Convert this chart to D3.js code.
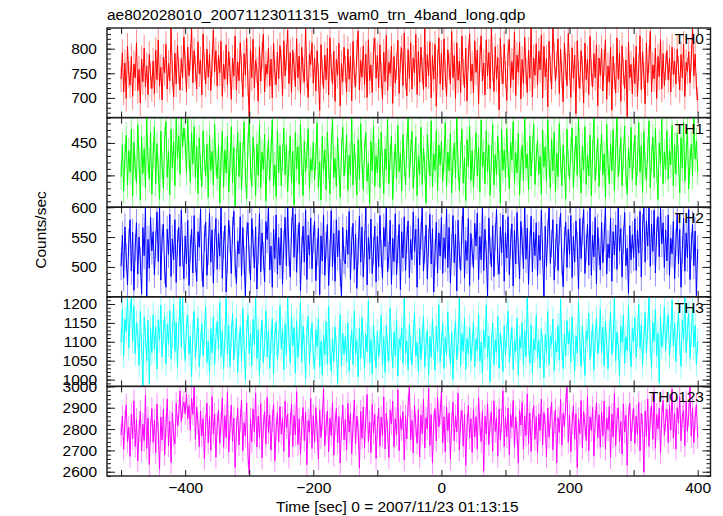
<!DOCTYPE html>
<html><head><meta charset="utf-8">
<script src="https://cdn.jsdelivr.net/npm/d3@7"></script>
<style>
html,body{margin:0;padding:0;background:#fff;}
svg{display:block;font-family:"Liberation Sans",Arial,Helvetica,sans-serif;}
</style></head>
<body><svg id="c" width="723" height="516"></svg>
<script>
const title = "ae802028010_20071123011315_wam0_trn_4band_long.qdp";
const xLabel = "Time [sec] 0 = 2007/11/23 01:13:15";
const yLabel = "Counts/sec";
const panelNames = ["TH0","TH1","TH2","TH3","TH0123"];
const colors = ["#ff0000","#00ff00","#0000ff","#00ffff","#ff00ff"];
const timeRange = [-500, 400];
const xDomain = [-522, 420];
const xTicks = [-400,-200,0,200,400];
const xTickLabels = ["\u2212400","\u2212200","0","200","400"];
const xMinorTicks = [-500,-300,-100,100,300];
const yDomains = [[660,842],[351,489],[450,600],[982,1219],[2580,3000]];
const yTicks = [[700,750,800],[400,450],[500,550,600],[1000,1050,1100,1150,1200],[2600,2700,2800,2900,3000]];
const yMinorStep = [10,10,10,10,20];
const errHalf = [27,20,23,33,53];

const th0 = [738,792,712,771,699,805,748,726,784,703,769,741,812,715,758,690,779,733,801,722,765,707,788,746,719,
775,708,797,737,818,724,762,696,783,751,809,718,770,735,842,749,702,791,728,806,755,716,780,741,824,
768,712,803,745,782,842,731,796,760,718,814,749,777,706,830,764,728,799,742,789,715,771,838,753,796,
724,787,751,815,703,769,738,808,727,794,756,697,781,744,826,716,773,735,812,759,702,790,746,821,730,
662,798,741,819,720,776,757,693,804,734,787,829,712,768,748,801,724,779,700,811,752,727,793,739,806,
771,704,816,745,783,838,729,792,711,797,764,723,820,741,785,709,803,756,732,842,747,701,789,768,812,
730,781,714,796,742,675,808,753,719,787,737,801,706,822,761,728,795,693,779,746,811,684,770,733,803,
759,712,799,738,784,694,815,748,723,791,836,716,776,742,806,727,789,701,818,735,767,711,796,821,740,
786,721,808,746,697,793,733,827,715,772,750,805,689,784,730,764,817,709,778,801,725,832,744,704,798,
739,812,718,781,751,829,707,794,732,803,756,717,840,722,788,745,814,700,786,738,809,683,770,822,728,
791,716,820,749,703,798,764,728,835,741,786,699,812,736,775,711,826,753,720,801,694,783,830,734,769,
710,816,752,797,688,779,826,734,771,706,818,745,792,719,842,760,713,804,738,782,676,821,755,729,809,
748,695,792,819,721,774,737,834,705,787,752,813,698,778,729,823,754,711,797,740,842,702,781,746,810,
726,795,757,828,700,805,743,780,682,815,760,718,842,786,734,768,820,709,799,747,692,811,764,725,831,
763,701,802,740,787,668,816,748,719,796,758,690,811,737,779,707,825,751,722,790,741,808,684,781,746,
800,714,771,818,697,765,732,803,675,784,744,710,822,738,791,693,806,752,719,777,662,813,741,768,708,
782,729,805,703,761,826,717,794,746,688,812,731,778,835,712,767,739,801,699,784,743,819,718,790,725,
764,796,737,781,712,803,748,775,728,799,758,716,788,741,809,703,772,754,794,730,781,842,745,789,722,695];

const th1 = [398,447,376,429,462,385,438,405,471,368,451,412,389,478,425,362,459,403,441,381,489,422,394,466,371,
432,475,387,449,408,363,468,415,380,455,483,397,437,370,471,411,452,384,489,426,461,402,489,444,473,
452,404,487,431,390,466,418,475,396,445,372,458,413,383,469,427,399,448,366,462,408,437,385,479,420,
395,446,358,425,468,382,439,404,461,374,418,475,389,443,352,421,466,398,451,377,432,482,401,364,447,
489,412,383,459,424,369,448,400,478,381,436,409,463,360,421,455,392,437,486,383,416,367,468,404,446,
384,428,473,401,447,375,419,461,388,437,355,466,410,444,386,479,420,369,453,405,431,472,380,425,408,
451,393,429,481,380,421,362,460,407,439,378,467,414,371,446,487,397,426,383,458,410,366,437,474,399,
423,463,377,431,401,489,385,448,413,370,455,394,480,422,378,438,466,391,419,356,452,407,476,383,430,
404,456,381,467,420,372,441,409,486,387,428,461,363,417,448,395,477,406,434,376,463,419,385,445,489,
397,435,468,380,418,459,369,429,402,474,386,442,413,358,463,423,399,484,382,433,408,469,376,447,416,
452,391,424,481,382,436,407,465,373,421,450,396,489,412,377,433,471,388,427,361,455,414,476,392,438,
381,421,466,399,443,374,485,413,436,387,469,405,447,369,426,478,385,432,401,460,419,357,471,408,439,
396,472,418,379,451,424,483,388,435,404,465,370,420,446,392,489,411,433,378,461,399,440,479,386,427,
455,402,429,371,470,413,444,391,486,420,380,456,407,467,375,434,398,480,423,384,447,412,364,471,419,
393,438,473,381,424,461,400,489,416,373,445,408,475,386,431,399,462,369,435,488,392,421,457,383,428,
464,401,433,366,479,418,387,449,407,470,377,436,489,398,423,458,384,429,476,402,371,442,411,474,394,
431,462,385,420,481,405,446,374,468,415,392,437,484,381,426,459,397,472,410,363,450,418,487,387,436,
409,469,394,438,416,477,384,447,402,465,424,373,458,411,482,391,433,473,379,421,448,399,489,425,453,405];

const th2 = [501,553,482,567,516,470,541,579,493,558,461,532,574,488,550,510,455,566,519,600,450,546,498,583,527,
559,487,538,592,509,600,478,549,571,495,466,563,521,588,484,547,512,579,474,540,566,501,595,524,480,
552,505,578,469,531,563,490,586,514,476,559,533,597,499,467,548,575,486,526,590,508,562,473,541,581,
496,556,518,600,481,537,569,458,512,578,546,489,561,593,506,472,543,522,584,485,566,511,452,553,574,
513,478,581,540,498,567,463,527,589,492,557,519,475,576,546,600,495,535,466,563,514,587,488,549,503,
565,471,538,583,502,600,524,483,560,600,516,588,491,547,574,460,529,568,508,595,479,553,520,582,497,
547,576,477,525,565,454,552,510,587,486,536,571,469,523,594,500,556,476,579,517,561,490,450,566,511,
505,562,521,593,479,544,573,496,555,464,526,585,508,567,483,538,600,470,549,513,580,489,527,568,475,
551,500,586,522,481,566,534,600,492,519,578,471,548,509,589,487,530,571,462,559,515,584,494,545,577,
482,546,512,592,526,563,466,581,503,552,600,493,529,570,480,541,588,505,564,458,523,575,490,557,518,
583,489,549,514,597,499,566,473,532,586,507,555,460,578,520,494,562,600,481,544,511,581,469,556,525,
498,573,535,590,479,551,512,600,494,563,521,451,582,527,500,569,484,550,596,509,488,567,524,587,476,
557,515,584,487,541,572,468,561,505,591,528,480,576,543,497,600,513,565,471,538,585,492,558,519,574,
485,553,511,595,522,450,568,501,556,600,506,539,579,478,524,572,494,560,590,509,467,545,575,499,563,
521,586,482,551,508,577,536,463,581,514,560,596,489,532,571,503,600,486,553,517,583,472,566,526,495,
574,507,549,600,488,538,515,582,476,559,520,570,496,600,527,564,483,545,591,502,531,456,569,512,554,
516,581,494,561,523,593,483,566,600,508,577,535,600,501,572,526,595,490,558,584,517,600,539,574,499,
562,510,587,486,548,522,576,480,541,590,505,563,466,528,582,493,557,515,596,479,535,571,502,560,452,530];

const th3 = [1098,1186,1062,1159,1127,1219,1083,1172,1219,1101,1195,1069,1151,1117,1038,1180,1089,982,1165,1112,1050,1157,990,1136,1071,
1171,1079,1140,1028,1158,1104,1197,1060,1125,1168,1041,1146,1093,1183,1055,1119,1200,1074,1152,1033,1130,1214,1086,1219,1110,
1050,1139,1170,1068,1115,1008,1127,1181,1057,1106,1162,1034,1092,1148,1063,1121,1193,1045,1101,1019,1135,1071,1166,1040,1112,
1154,1080,1204,1061,1129,1029,1110,1219,1066,1143,1035,1118,1175,1052,1105,1163,1018,1094,1140,1048,1188,1087,1001,1124,1170,
1069,1121,1037,1159,1092,1216,1055,1133,1011,1108,1157,1044,1095,1182,1060,1130,1030,1100,1161,1014,1117,1152,1053,1098,1196,
1082,1133,1026,1148,1064,1219,1109,1043,1169,1090,1138,1017,1156,1058,1112,1205,1046,1141,1089,1003,1125,1167,1039,1104,1150,
1061,1027,1133,1086,1162,1035,1101,1013,1118,1066,1153,1042,1194,1075,1021,1110,1048,1139,1081,990,1097,1172,1036,1123,1067,
1115,1046,1150,1022,1085,1131,1040,1181,1068,1103,1007,1136,1055,1165,1090,1029,1120,1074,1208,1044,1106,1015,1147,1082,1032,
1128,1058,1099,1170,1037,1113,1019,1143,1077,1049,1189,1092,1031,1125,1063,1158,1010,1107,1084,1137,1043,1215,1071,1102,1026,
1146,1081,1039,1116,1176,1062,1098,1020,1135,1054,1109,1167,1033,1093,1132,1012,1114,1059,1160,1087,1025,1141,1073,1198,1047,
1096,1149,1029,1112,1066,1178,1088,1041,1127,1000,1104,1155,1052,1094,1219,1036,1121,1075,1163,1027,1108,1069,1140,1050,1095,
1153,1034,1107,1078,1174,1048,1099,1016,1131,1085,1197,1057,1115,995,1092,1150,1039,1105,1072,1168,1030,1124,1083,1021,1142,
1064,1118,1181,1045,1093,1138,1026,1102,1076,1162,1012,1111,1084,1151,1037,1129,1061,1219,1095,1044,1145,1018,1107,1079,1170,
1056,1103,1031,1134,1087,1005,1119,1069,1180,1040,1114,1092,1160,1024,1101,1073,1143,1051,1212,1086,1029,1122,1063,1156,1094,
1131,1047,1166,1090,1022,1116,1070,1204,1097,1035,1144,1081,1011,1128,1105,1175,1054,1096,1147,1025,1110,1163,1068,1102,1187,
1072,1139,1036,1155,1093,1028,1120,1178,1066,1106,1219,1049,1126,1085,1010,1141,1098,1170,1043,1113,1076,1196,1091,1034,1137,
1100,1164,1059,1118,1199,1082,1145,1038,1109,1177,1070,1132,1219,1094,1030,1152,1101,1185,1062,1123,992,1168,1087,1114,1193,
1078,1136,1172,1060,1115,1210,1090,1149,1048,1121,1180,1095,1035,1158,1104,1219,1071,1133,1174,1057,1118,1192,1086,1143,1040,1101];

const th0123 = [2772,2861,2705,2834,2913,2741,2808,2672,2869,2755,2932,2718,2845,2650,2790,2884,2697,2823,2746,2958,2710,2851,2634,2797,2896,
2738,2842,2689,2917,2781,2612,2856,2749,2893,2680,2812,2940,2722,2836,2643,2877,2770,2731,2921,2815,2862,2978,2835,2901,2926,
2872,2965,2848,2910,2794,2944,2869,2996,2752,2903,2826,2718,2885,2768,2849,2661,2817,2922,2736,2858,2700,2953,2779,2871,2668,
2821,2889,2734,2827,2946,2715,2863,2760,2972,2692,2809,2912,2743,2852,2620,2798,2897,2725,2841,2935,2699,2830,2767,2923,2684,
2590,2848,2741,2894,2787,2968,2716,2860,2758,2919,2665,2815,2882,2729,2949,2783,2866,2701,2838,2915,2651,2800,2877,2740,2905,
2776,2852,2696,2930,2806,2870,2668,2825,2918,2719,2863,2772,2975,2727,2848,2683,2809,2901,2746,2879,2633,2840,2785,2943,2709,
2863,2739,2901,2792,2660,2889,2760,2846,2988,2722,2819,2885,2694,2851,2770,2927,2678,2824,2897,2735,2858,2641,2804,2913,2749,
2845,2703,2921,2786,2872,2684,2814,2937,2730,2861,2795,2618,2883,2757,2904,2712,2850,2962,2741,2834,2690,2916,2781,2869,2662,
2808,2898,2721,2856,2768,2951,2707,2874,2790,2667,2889,2824,2930,2716,2849,2773,2984,2698,2859,2796,2882,2655,2863,2754,2911,
3000,2751,2840,2688,2912,2817,2733,2890,2669,2866,2779,2939,2711,2853,2801,2992,2723,2868,2640,2829,2896,2744,2948,2810,2875,
2975,2736,2857,2693,2904,2792,2876,2659,2826,2925,2745,2862,2787,2968,2702,2836,2887,2720,2871,2629,2815,2910,2758,2849,2690,
2893,2763,2858,2706,2947,2822,2741,2885,2603,2860,2777,2920,2727,2833,2878,2696,2931,2789,2852,2672,2894,2748,2839,2979,2718,
2855,2764,2898,2680,2869,2808,2934,2715,2857,2782,2640,2887,2819,2925,2706,2862,2770,2964,2731,2876,2695,2843,2909,2752,2858,
2687,2870,2793,2940,2725,2878,2816,2669,2899,2761,2856,2927,2703,2831,2891,2642,2853,2784,2939,2724,2873,2811,2916,2995,2738,
2866,2694,2827,2910,2752,2872,2620,2848,2779,2933,2711,2882,2820,2745,2957,2698,2857,2793,2901,2673,2838,2924,2759,2867,2716,
2881,2769,2931,2705,2852,2797,2906,2666,2871,2763,2968,2722,2846,2900,2741,2835,2683,2918,2786,2864,2630,2857,2921,2744,2840,
2899,2733,2861,2773,2925,2698,2874,2816,2598,2885,2766,2941,2719,2854,2908,2752,2974,2710,2869,2801,2898,2687,2862,2934,2771,
2843,2893,2737,2913,2795,2987,2758,2872,2706,2900,2829,2952,2745,2859,2887,2722,2929,2790,2866,3000,2766,2901,2735,2851,2914,2760];

const series = [th0, th1, th2, th3, th0123];

(function draw() {
  const pL = 107, pR = 710.5, pT = 28, pB = 476;
  const panelH = (pB - pT) / series.length;
  const ink = "#1a1a1a";
  const fs = 15.5;
  const ff = "Liberation Sans, Arial, sans-serif";

  const svg = d3.select("#c");
  const x = d3.scaleLinear().domain(xDomain).range([pL, pR]);

  svg.append("text").attr("x", 107).attr("y", 20).attr("font-size", fs).attr("fill", "#000").text(title);

  series.forEach((vals, p) => {
    const y0 = pT + p * panelH, y1 = y0 + panelH;
    const y = d3.scaleLinear().domain(yDomains[p]).range([y1, y0]);
    const step = (timeRange[1] - timeRange[0]) / (vals.length - 1);
    const pts = vals.map((v, i) => [timeRange[0] + i * step, v]);
    const g = svg.append("g");
    const clipId = "clip" + p;
    svg.append("clipPath").attr("id", clipId).append("rect")
      .attr("x", pL).attr("y", y0).attr("width", pR - pL).attr("height", panelH);
    const dg = g.append("g").attr("clip-path", `url(#${clipId})`);
    dg.append("path")
      .attr("d", pts.map(d => `M${x(d[0])},${y(d[1] - errHalf[p])}V${y(d[1] + errHalf[p])}`).join(""))
      .attr("stroke", colors[p]).attr("stroke-opacity", 0.45).attr("stroke-width", 1).attr("fill", "none");
    dg.append("path").datum(pts)
      .attr("d", d3.line().x(d => x(d[0])).y(d => y(d[1])))
      .attr("stroke", colors[p]).attr("stroke-width", 1).attr("fill", "none");

    const minor = d3.range(Math.ceil(yDomains[p][0] / yMinorStep[p]) * yMinorStep[p], yDomains[p][1] + 0.01, yMinorStep[p]);
    const yMajorLeft = d3.axisLeft(y).tickValues(yTicks[p]).tickSizeInner(-8).tickSizeOuter(0).tickPadding(10).tickFormat(d3.format("d"));
    const yMinorLeft = d3.axisLeft(y).tickValues(minor).tickSizeInner(-4).tickSizeOuter(0).tickFormat("");
    const yMajorRight = d3.axisRight(y).tickValues(yTicks[p]).tickSizeInner(-8).tickSizeOuter(0).tickFormat("");
    const yMinorRight = d3.axisRight(y).tickValues(minor).tickSizeInner(-4).tickSizeOuter(0).tickFormat("");
    [[yMajorLeft, pL], [yMinorLeft, pL], [yMajorRight, pR], [yMinorRight, pR]].forEach(([ax, xx]) => {
      const a = g.append("g").attr("transform", `translate(${xx},0)`).call(ax);
      a.select(".domain").remove();
      a.selectAll("line").attr("stroke", ink);
      a.selectAll("text").attr("font-size", fs).attr("fill", "#000").attr("font-family", ff);
    });
    const allX = xTicks.concat(xMinorTicks).filter(v => v >= xDomain[0] && v <= xDomain[1]);
    const xb = d3.axisBottom(x).tickValues(allX).tickSizeInner(-6).tickSizeOuter(0).tickFormat("");
    const xt = d3.axisTop(x).tickValues(allX).tickSizeInner(-6).tickSizeOuter(0).tickFormat("");
    [[xb, y1], [xt, y0]].forEach(([ax, yy]) => {
      const a = g.append("g").attr("transform", `translate(0,${yy})`).call(ax);
      a.select(".domain").remove();
      a.selectAll("line").attr("stroke", ink);
    });
    g.append("rect").attr("x", pL).attr("y", y0).attr("width", pR - pL).attr("height", panelH)
      .attr("fill", "none").attr("stroke", ink).attr("stroke-width", 1.4);
    g.append("text").attr("x", 704).attr("y", y0 + 16).attr("text-anchor", "end")
      .attr("font-size", fs).attr("fill", "#000").text(panelNames[p]);
  });

  const xl = d3.axisBottom(x).tickValues(xTicks).tickSize(0).tickPadding(6)
    .tickFormat((d, i) => xTickLabels[i]);
  const xa = svg.append("g").attr("transform", `translate(0,${pB})`).call(xl);
  xa.select(".domain").remove();
  xa.selectAll("text").attr("font-size", fs).attr("fill", "#000").attr("font-family", ff);

  svg.append("text").attr("x", 276).attr("y", 512).attr("text-anchor", "start")
    .attr("font-size", fs).attr("fill", "#000").text(xLabel);
  svg.append("text").attr("transform", `translate(46,230) rotate(-90)`)
    .attr("text-anchor", "middle").attr("font-size", fs).attr("fill", "#000").text(yLabel);
})();
</script></body></html>
